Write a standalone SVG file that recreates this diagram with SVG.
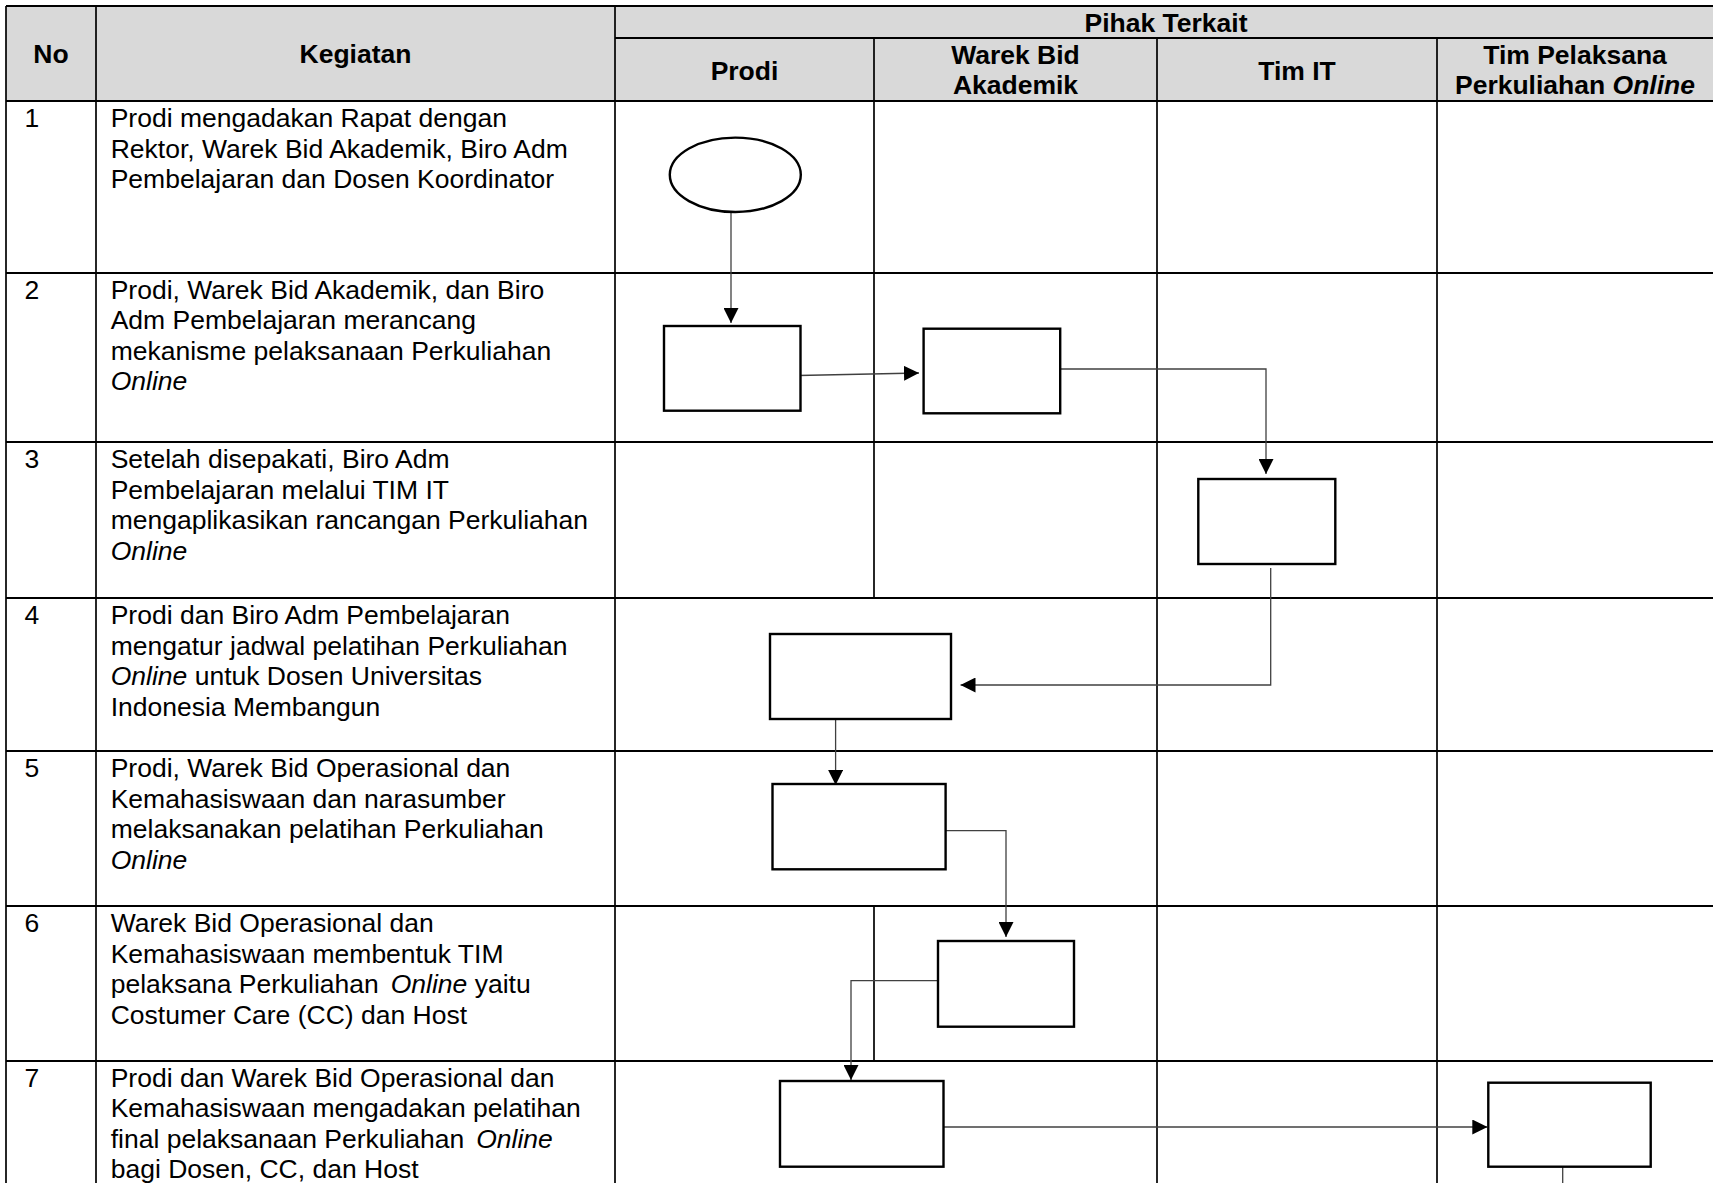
<svg xmlns="http://www.w3.org/2000/svg" width="1713" height="1183" viewBox="0 0 1713 1183">
<style>
.hl{stroke:#000;stroke-width:2.2;fill:none}
.vl{stroke:#000;stroke-width:1.7;fill:none}
.hd{font-family:"Liberation Sans",Arial,sans-serif;font-size:26.5px;font-weight:bold;fill:#000;text-anchor:middle}
.tx{font-family:"Liberation Sans",Arial,sans-serif;font-size:26.5px;fill:#000}
.it{font-style:italic}
.box{fill:#fff;stroke:#000;stroke-width:2.4}
.cn{fill:none;stroke:#404040;stroke-width:1.3}
</style>
<defs>
<marker id="ah" markerUnits="userSpaceOnUse" markerWidth="15" markerHeight="15" refX="15" refY="7.5" orient="auto">
<path d="M0,0 L15,7.5 L0,15 z" fill="#000"/>
</marker>
</defs>
<rect x="0" y="0" width="1713" height="1183" fill="#fff"/>
<g id="table">
<rect x="6" y="6" width="1720" height="95" fill="#d9d9d9"/>
<line class="hl" x1="6" y1="6" x2="1713" y2="6"/>
<line class="hl" x1="615" y1="38" x2="1713" y2="38"/>
<line class="hl" x1="6" y1="101" x2="1713" y2="101"/>
<line class="hl" x1="6" y1="273" x2="1713" y2="273"/>
<line class="hl" x1="6" y1="442" x2="1713" y2="442"/>
<line class="hl" x1="6" y1="598" x2="1713" y2="598"/>
<line class="hl" x1="6" y1="751" x2="1713" y2="751"/>
<line class="hl" x1="6" y1="906" x2="1713" y2="906"/>
<line class="hl" x1="6" y1="1061" x2="1713" y2="1061"/>
<line class="vl" x1="6" y1="6" x2="6" y2="1183"/>
<line class="vl" x1="96" y1="6" x2="96" y2="1183"/>
<line class="vl" x1="615" y1="6" x2="615" y2="1183"/>
<line class="vl" x1="874" y1="38" x2="874" y2="598"/>
<line class="vl" x1="874" y1="906" x2="874" y2="1061"/>
<line class="vl" x1="1157" y1="38" x2="1157" y2="1183"/>
<line class="vl" x1="1437" y1="38" x2="1437" y2="1183"/>
<text class="hd" x="51" y="63">No</text>
<text class="hd" x="355.5" y="63">Kegiatan</text>
<text class="hd" x="1166" y="31.5">Pihak Terkait</text>
<text class="hd" x="744.5" y="79.5">Prodi</text>
<text class="hd" x="1015.5" y="64">Warek Bid</text>
<text class="hd" x="1015.5" y="94">Akademik</text>
<text class="hd" x="1297" y="79.5">Tim IT</text>
<text class="hd" x="1575" y="64">Tim Pelaksana</text>
<text class="hd" x="1575" y="93.5">Perkuliahan <tspan class="it">Online</tspan></text>
<g id="row1">
<text class="tx" x="24.5" y="127">1</text>
<text class="tx" x="110.7" y="127">Prodi mengadakan Rapat dengan</text>
<text class="tx" x="110.7" y="157.6">Rektor, Warek Bid Akademik, Biro Adm</text>
<text class="tx" x="110.7" y="188.2">Pembelajaran dan Dosen Koordinator</text>
</g>
<g id="row2">
<text class="tx" x="24.5" y="298.5">2</text>
<text class="tx" x="110.7" y="298.5">Prodi, Warek Bid Akademik, dan Biro</text>
<text class="tx" x="110.7" y="329">Adm Pembelajaran merancang</text>
<text class="tx" x="110.7" y="359.5">mekanisme pelaksanaan Perkuliahan</text>
<text class="tx it" x="110.7" y="390">Online</text>
</g>
<g id="row3">
<text class="tx" x="24.5" y="468">3</text>
<text class="tx" x="110.7" y="468">Setelah disepakati, Biro Adm</text>
<text class="tx" x="110.7" y="498.5">Pembelajaran melalui TIM IT</text>
<text class="tx" x="110.7" y="529">mengaplikasikan rancangan Perkuliahan</text>
<text class="tx it" x="110.7" y="559.5">Online</text>
</g>
<g id="row4">
<text class="tx" x="24.5" y="624">4</text>
<text class="tx" x="110.7" y="624">Prodi dan Biro Adm Pembelajaran</text>
<text class="tx" x="110.7" y="654.5">mengatur jadwal pelatihan Perkuliahan</text>
<text class="tx" x="110.7" y="685"><tspan class="it">Online</tspan> untuk Dosen Universitas</text>
<text class="tx" x="110.7" y="715.5">Indonesia Membangun</text>
</g>
<g id="row5">
<text class="tx" x="24.5" y="777">5</text>
<text class="tx" x="110.7" y="777">Prodi, Warek Bid Operasional dan</text>
<text class="tx" x="110.7" y="807.5">Kemahasiswaan dan narasumber</text>
<text class="tx" x="110.7" y="838">melaksanakan pelatihan Perkuliahan</text>
<text class="tx it" x="110.7" y="868.5">Online</text>
</g>
<g id="row6">
<text class="tx" x="24.5" y="932">6</text>
<text class="tx" x="110.7" y="932">Warek Bid Operasional dan</text>
<text class="tx" x="110.7" y="962.5">Kemahasiswaan membentuk TIM</text>
<text class="tx" x="110.7" y="993">pelaksana Perkuliahan <tspan class="it" dx="4.5">Online</tspan> yaitu</text>
<text class="tx" x="110.7" y="1023.5">Costumer Care (CC) dan Host</text>
</g>
<g id="row7">
<text class="tx" x="24.5" y="1086.5">7</text>
<text class="tx" x="110.7" y="1086.5">Prodi dan Warek Bid Operasional dan</text>
<text class="tx" x="110.7" y="1117">Kemahasiswaan mengadakan pelatihan</text>
<text class="tx" x="110.7" y="1147.5">final pelaksanaan Perkuliahan <tspan class="it" dx="4.5">Online</tspan></text>
<text class="tx" x="110.7" y="1178">bagi Dosen, CC, dan Host</text>
</g>
</g>
<g id="connectors">
<path class="cn" d="M731,212 L731,323" marker-end="url(#ah)"/>
<path class="cn" d="M798,375.5 L919,373" marker-end="url(#ah)"/>
<path class="cn" d="M1058,369 L1266,369 L1266,474" marker-end="url(#ah)"/>
<path class="cn" d="M1270.7,568 L1270.7,685 L960.5,685" marker-end="url(#ah)"/>
<path class="cn" d="M835.6,719 L835.6,785" marker-end="url(#ah)"/>
<path class="cn" d="M945.6,830.7 L1006,830.7 L1006,937" marker-end="url(#ah)"/>
<path class="cn" d="M938,980.7 L851,980.7 L851,1080" marker-end="url(#ah)"/>
<path class="cn" d="M943.5,1127 L1487.3,1127" marker-end="url(#ah)"/>
<path class="cn" d="M1562.7,1167 L1562.7,1190"/>
</g>
<g id="n1-start"><ellipse class="box" cx="735.3" cy="174.8" rx="65.5" ry="37.2"/></g>
<g id="n2-prodi"><rect class="box" x="664" y="326" width="136.5" height="84.7"/></g>
<g id="n2-warek"><rect class="box" x="923.6" y="328.7" width="136.6" height="84.6"/></g>
<g id="n3-timit"><rect class="box" x="1198.3" y="479" width="137" height="85"/></g>
<g id="n4-prodi"><rect class="box" x="770" y="634" width="181" height="85"/></g>
<g id="n5-prodi"><rect class="box" x="772.5" y="784" width="173.1" height="85.3"/></g>
<g id="n6-warek"><rect class="box" x="938" y="941" width="136" height="85.7"/></g>
<g id="n7-prodi"><rect class="box" x="780" y="1081" width="163.5" height="85.7"/></g>
<g id="n7-timpel"><rect class="box" x="1488.3" y="1082.7" width="162.4" height="84"/></g>
</svg>
